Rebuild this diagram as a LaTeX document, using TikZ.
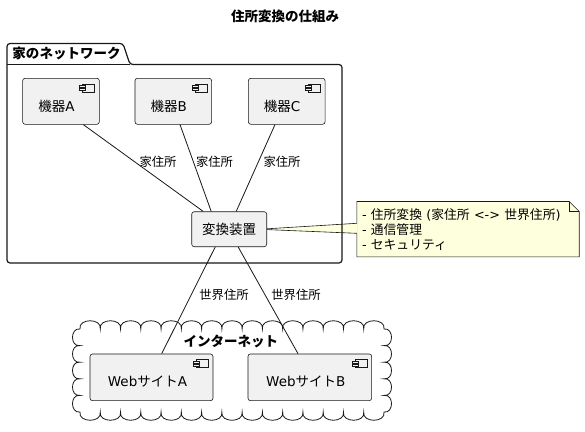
\documentclass[tikz,border=0pt]{standalone}
\usepackage{fontspec}
\setmainfont{Noto Sans CJK JP}
\newfontfamily\lsf{DejaVu Sans}
\usetikzlibrary{calc,backgrounds}
\definecolor{boxfill}{HTML}{F1F1F1}
\definecolor{edgecol}{HTML}{181818}
\definecolor{notefill}{HTML}{FEFFDD}
\tikzset{
  comp/.style={draw=edgecol, fill=boxfill, line width=0.6pt, rounded corners=2.5pt,
    minimum width=76.7pt, minimum height=46pt, inner sep=0pt},
  plainbox/.style={draw=edgecol, fill=boxfill, line width=0.6pt, rounded corners=2.5pt,
    minimum width=75pt, minimum height=35pt, inner sep=0pt, font=\fontsize{13.5}{16}\selectfont},
  ctext/.style={font=\fontsize{13.5}{16}\selectfont, inner sep=0pt},
  elabel/.style={font=\fontsize{12.3}{14}\selectfont, inner sep=0pt},
  conn/.style={draw=edgecol, line width=0.8pt},
  titletext/.style={font=\bfseries\fontsize{13.5}{16}\selectfont, inner sep=0pt},
  notebox/.style={minimum width=220pt, minimum height=55pt, inner xsep=5pt, inner ysep=0pt,
    text width=212pt, align=left, font=\fontsize{12.8}{15}\selectfont},
  cicon/.pic={
    \draw[edgecol, fill=boxfill, line width=0.5pt] (-17,6) rectangle (-5,14);
    \draw[edgecol, fill=boxfill, line width=0.5pt] (-20,7.5) rectangle (-14,9.5);
    \draw[edgecol, fill=boxfill, line width=0.5pt] (-20,10.5) rectangle (-14,12.5);
  }
}
\begin{document}
\begin{tikzpicture}[x=1pt, y=-1pt]
\useasboundingbox (0,0) rectangle (585,431);

% title
\node[titletext] (title) at (285,16.7) {住所変換の仕組み};

% package
\draw[edgecol, line width=1.2pt, rounded corners=3pt]
  (7,64.5) -- (7,43.5) -- (123,43.5) -- (130,64.5) -- (342,64.5) -- (342,263) -- (7,263) -- cycle;
\draw[edgecol, line width=1.2pt] (7,64.5) -- (130,64.5);
\node[titletext] (pkglabel) at (66.5,53.5) {家のネットワーク};

% components in package
\node[comp, label={[ctext, xshift=-4.5pt, yshift=-5.4pt]center:機器{\lsf A}}] (ka) at (61,101.3) {};
\node[comp, label={[ctext, xshift=-4.5pt, yshift=-5.4pt]center:機器{\lsf B}}] (kb) at (173.3,101.3) {};
\node[comp, label={[ctext, xshift=-4.5pt, yshift=-5.4pt]center:機器{\lsf C}}] (kc) at (286.7,101.3) {};
\pic at (ka.north east) {cicon};
\pic at (kb.north east) {cicon};
\pic at (kc.north east) {cicon};

\node[plainbox] (conv) at (229.2,229.2) {変換装置};

% cloud
\draw[edgecol, line width=0.8pt, fill=white]
  (80,329)
  \foreach \i in {0,...,14} { .. controls ({80+\i*20.267-2},318) and ({80+(\i+1)*20.267+2},318) .. ({80+(\i+1)*20.267},329) }
  \foreach \i in {0,...,4} { .. controls (394,{329+\i*16.6-1.5}) and (394,{329+(\i+1)*16.6+1.5}) .. (384,{329+(\i+1)*16.6}) }
  \foreach \i in {0,...,14} { .. controls ({384-\i*20.267+2},423) and ({384-(\i+1)*20.267-2},423) .. ({384-(\i+1)*20.267},412) }
  \foreach \i in {0,...,4} { .. controls (70,{412-\i*16.6+1.5}) and (70,{412-(\i+1)*16.6-1.5}) .. (80,{412-(\i+1)*16.6}) }
  -- cycle;
\node[titletext] (netlabel) at (230.8,341.7) {インターネット};

\node[comp, minimum width=123pt, minimum height=46.7pt, label={[ctext, xshift=-4pt, yshift=-4.5pt]center:{\lsf Web}サイト{\lsf A}}] (wa) at (151.5,377.3) {};
\node[comp, minimum width=123.7pt, minimum height=46.7pt, label={[ctext, xshift=-4pt, yshift=-4.5pt]center:{\lsf Web}サイト{\lsf B}}] (wb) at (309.8,377.3) {};
\pic at (wa.north east) {cicon};
\pic at (wb.north east) {cicon};

% connectors
\draw[conn] ($(ka.south)+(22.3,0)$) -- ($(conv.north)+(-26,0)$);
\draw[conn] ($(kb.south)+(6.7,0)$) -- ($(conv.north)+(-18,0)$);
\draw[conn] ($(kc.south)+(-11.7,0)$) -- ($(conv.north)+(7,0)$);
\draw[conn] ($(conv.south)+(-14,0)$) -- ($(wa.north)+(10.2,0)$);
\draw[conn] ($(conv.south)+(9,0)$) -- ($(wb.north)+(-11.8,0)$);

\node[elabel] (l1) at (158,161.7) {家住所};
\node[elabel] (l2) at (214.5,161.7) {家住所};
\node[elabel] (l3) at (282,161.7) {家住所};
\node[elabel] (l4) at (224,295) {世界住所};
\node[elabel] (l5) at (296,295) {世界住所};

% note
\node[notebox] (note) at (468,229.8)
  {{\lsf - }住所変換{\lsf{} (}家住所{\lsf{} <-> }世界住所{\lsf )}\\{\lsf - }通信管理\\{\lsf - }セキュリティ};
\begin{scope}[on background layer]
\fill[white] (0,0) rectangle (585,431);
\draw[edgecol, line width=0.6pt, fill=notefill] ($(note.north west)+(0,-0.6)$) -- ($(note.north east)+(-10,-0.6)$) -- ($(note.north east)+(0,9.4)$) -- ($(note.south east)+(0,-0.6)$) -- ($(note.south west)+(0,-0.6)$) -- cycle;
\draw[edgecol, line width=0.6pt] ($(note.north east)+(-10,-0.6)$) -- ($(note.north east)+(-10,9.4)$) -- ($(note.north east)+(0,9.4)$);
\fill[notefill] (conv.east) -- ($(note.west)+(0.8,-6.5)$) -- ($(note.west)+(0.8,3.5)$) -- cycle;
\draw[edgecol, line width=0.6pt] ($(conv.east)+(0,-0.4)$) -- ($(note.west)+(0,-6.5)$);
\draw[edgecol, line width=0.6pt] ($(conv.east)+(0,0.4)$) -- ($(note.west)+(0,3.5)$);
\end{scope}
\end{tikzpicture}
\end{document}
